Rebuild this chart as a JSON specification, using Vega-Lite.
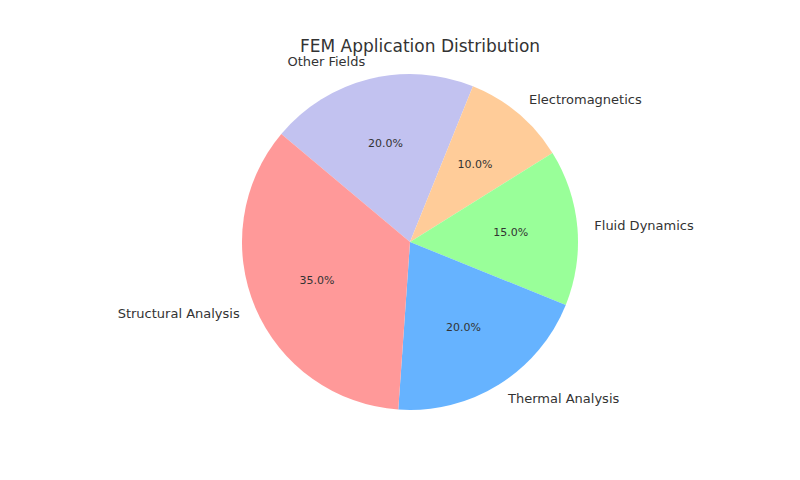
{
  "$schema": "https://vega.github.io/schema/vega-lite/v6.json",
  "width": 800, "height": 480,
  "autosize": {"type": "fit", "contains": "padding"},
  "padding": {"left": 20, "top": 4, "right": 0, "bottom": 0},
  "background": "white",
  "title": {"text": "FEM Application Distribution", "fontSize": 17, "font": "DejaVu Sans", "fontWeight": "normal", "color": "#333333", "dy": 52, "dx": 10, "offset": 0},
  "view": {"stroke": null},
  "data": {"values": [
    {"category": "Other Fields", "value": 20, "pct": "20.0%", "o": 1},
    {"category": "Electromagnetics", "value": 10, "pct": "10.0%", "o": 2},
    {"category": "Fluid Dynamics", "value": 15, "pct": "15.0%", "o": 3},
    {"category": "Thermal Analysis", "value": 20, "pct": "20.0%", "o": 4},
    {"category": "Structural Analysis", "value": 35, "pct": "35.0%", "o": 5}
  ]},
  "transform": [
    {"stack": "value", "groupby": [], "sort": [{"field": "o"}], "as": ["v0", "v1"]},
    {"calculate": "(datum.v0 + datum.v1) / 2", "as": "mid"}
  ],
  "layer": [
    {"mark": {"type": "arc", "outerRadius": 168},
     "encoding": {
       "theta": {"field": "v0", "type": "quantitative", "scale": {"domain": [0, 100], "range": [-0.8727, 5.4105]}},
       "theta2": {"field": "v1"},
       "color": {"field": "category", "type": "nominal", "legend": null,
       "scale": {"domain": ["Structural Analysis", "Thermal Analysis", "Fluid Dynamics", "Electromagnetics", "Other Fields"],
                 "range": ["#ff9999", "#66b3ff", "#99ff99", "#ffcc99", "#c2c2f0"]}}}},
    {"mark": {"type": "text", "radius": 101, "fontSize": 11, "font": "DejaVu Sans", "color": "#333333"},
     "encoding": {"theta": {"field": "mid", "type": "quantitative", "scale": {"domain": [0, 100], "range": [-0.8727, 5.4105]}}, "text": {"field": "pct"}}},
    {"transform": [{"filter": {"field": "category", "oneOf": ["Structural Analysis", "Other Fields"]}}],
     "mark": {"type": "text", "radius": 185, "fontSize": 13, "font": "DejaVu Sans", "color": "#333333", "align": "right"},
     "encoding": {"theta": {"field": "mid", "type": "quantitative", "scale": {"domain": [0, 100], "range": [-0.8727, 5.4105]}}, "text": {"field": "category"}}},
    {"transform": [{"filter": {"field": "category", "oneOf": ["Thermal Analysis", "Fluid Dynamics", "Electromagnetics"]}}],
     "mark": {"type": "text", "radius": 185, "fontSize": 13, "font": "DejaVu Sans", "color": "#333333", "align": "left"},
     "encoding": {"theta": {"field": "mid", "type": "quantitative", "scale": {"domain": [0, 100], "range": [-0.8727, 5.4105]}}, "text": {"field": "category"}}}
  ]
}
